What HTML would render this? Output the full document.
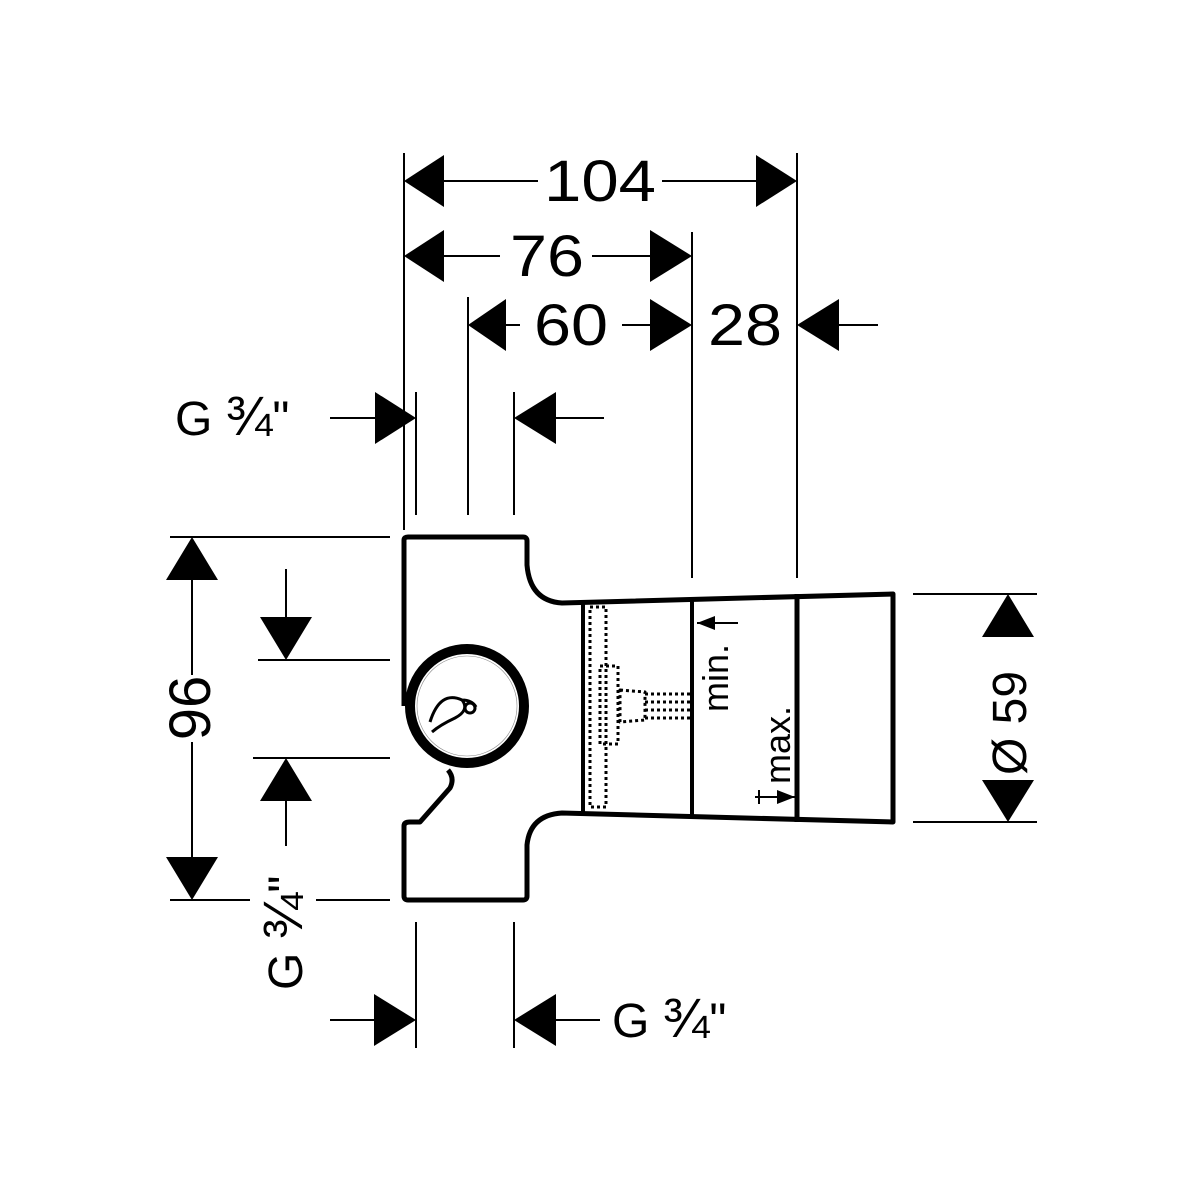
<!DOCTYPE html>
<html><head><meta charset="utf-8"><style>html,body{margin:0;padding:0;background:#fff}svg{display:block}text{font-family:"Liberation Sans",sans-serif;fill:#000}</style></head>
<body>
<svg width="1200" height="1200" viewBox="0 0 1200 1200" xmlns="http://www.w3.org/2000/svg">
<g stroke="#000" stroke-width="2" fill="none">
<line x1="404" y1="153" x2="404" y2="530"/>
<line x1="416" y1="392" x2="416" y2="515"/>
<line x1="468" y1="297" x2="468" y2="515"/>
<line x1="514" y1="392" x2="514" y2="515"/>
<line x1="692" y1="232" x2="692" y2="578"/>
<line x1="797" y1="153" x2="797" y2="578"/>
<line x1="444" y1="181" x2="538" y2="181"/><line x1="662" y1="181" x2="756" y2="181"/>
<line x1="444" y1="256" x2="500" y2="256"/><line x1="592" y1="256" x2="650" y2="256"/>
<line x1="506" y1="325" x2="520" y2="325"/><line x1="622" y1="325" x2="650" y2="325"/>
<line x1="839" y1="325" x2="878" y2="325"/>
<line x1="330" y1="418" x2="375" y2="418"/><line x1="556" y1="418" x2="604" y2="418"/>
<line x1="170" y1="537" x2="390" y2="537"/>
<line x1="170" y1="900" x2="250" y2="900"/><line x1="316" y1="900" x2="390" y2="900"/>
<line x1="258" y1="660" x2="390" y2="660"/>
<line x1="253" y1="758" x2="390" y2="758"/>
<line x1="192" y1="580" x2="192" y2="675"/><line x1="192" y1="742" x2="192" y2="857"/>
<line x1="286" y1="569" x2="286" y2="617"/><line x1="286" y1="801" x2="286" y2="846"/>
<line x1="416" y1="922" x2="416" y2="1048"/><line x1="514" y1="922" x2="514" y2="1048"/>
<line x1="330" y1="1020" x2="374" y2="1020"/><line x1="556" y1="1020" x2="600" y2="1020"/>
<line x1="913" y1="594" x2="1037" y2="594"/><line x1="913" y1="822" x2="1037" y2="822"/>
</g>
<g fill="#000">
<polygon points="404,181 444,155 444,207"/><polygon points="797,181 756,155 756,207"/>
<polygon points="404,256 444,230 444,282"/><polygon points="692,256 650,230 650,282"/>
<polygon points="468,325 506,299 506,351"/><polygon points="692,325 650,299 650,351"/>
<polygon points="797,325 839,299 839,351"/>
<polygon points="416,418 375,392 375,444"/><polygon points="514,418 556,392 556,444"/>
<polygon points="192,537 166,580 218,580"/><polygon points="192,900 166,857 218,857"/>
<polygon points="286,660 260,617 312,617"/><polygon points="286,758 260,801 312,801"/>
<polygon points="416,1020 374,994 374,1046"/><polygon points="514,1020 556,994 556,1046"/>
<polygon points="1008,594 982,637 1034,637"/><polygon points="1008,822 982,780 1034,780"/>
</g>
<g font-size="58">
<text x="600" y="201" text-anchor="middle" textLength="112" lengthAdjust="spacingAndGlyphs">104</text>
<text x="547" y="276" text-anchor="middle" textLength="74" lengthAdjust="spacingAndGlyphs">76</text>
<text x="571" y="345" text-anchor="middle" textLength="74" lengthAdjust="spacingAndGlyphs">60</text>
<text x="745" y="345" text-anchor="middle" textLength="74" lengthAdjust="spacingAndGlyphs">28</text>
</g>
<g font-size="48">
<text x="175" y="435">G <tspan font-size="56">¾</tspan>"</text>
<text x="612" y="1037">G <tspan font-size="56">¾</tspan>"</text>
<text transform="translate(210,708) rotate(-90)" text-anchor="middle" font-size="58">96</text>
<text transform="translate(302,990) rotate(-90)">G <tspan font-size="56">¾</tspan>"</text>
<text transform="translate(1026,775) rotate(-90)">Ø 59</text>
</g>
<g stroke="#000" fill="none" stroke-linejoin="round">
<path d="M404,706 L404,540 Q404,537 408,537 L523,537 Q527,537 527,541 L527,565 Q530,601 562,603 L893,594 L893,822 L562,813 Q530,815 527,845 L527,896 Q527,900 523,900 L408,900 Q404,900 404,896 L404,826 Q404,822 410,822 L420,822 L450,788 Q455,778 448,770" stroke-width="5"/>
<circle cx="467" cy="706" r="57" stroke-width="10"/>
<circle cx="467" cy="706" r="50" stroke-width="0.6" stroke="#888"/>
<line x1="583" y1="603" x2="583" y2="815" stroke-width="4"/>
<line x1="692" y1="598" x2="692" y2="818" stroke-width="4"/>
<line x1="797" y1="594" x2="797" y2="822" stroke-width="5"/>
<g stroke-width="3" stroke-dasharray="3,3">
<rect x="590" y="607" width="16" height="200"/>
<rect x="600" y="666" width="18" height="78"/>
<path d="M620,690 L645,692 L645,720 L620,722 Z"/>
<path d="M645,694 L690,694 M645,702 L690,702 M645,710 L690,710 M645,718 L690,718"/>
</g>
<path d="M430,722 Q440,690 462,700 Q470,710 455,718 Q440,725 432,732 M462,700 Q472,700 476,707" stroke-width="3"/>
<circle cx="470" cy="708" r="5" stroke-width="3"/>
<line x1="697" y1="623" x2="738" y2="623" stroke-width="2"/>
<line x1="755" y1="797" x2="795" y2="797" stroke-width="2"/>
<line x1="759" y1="790" x2="759" y2="804" stroke-width="2"/>
</g>
<polygon points="697,623 715,616 715,630" fill="#000"/>
<polygon points="795,797 777,790 777,804" fill="#000"/>
<g font-size="36">
<text transform="translate(728,712) rotate(-90)">min.</text>
<text transform="translate(790,784) rotate(-90)">max.</text>
</g>
</svg>
</body></html>
